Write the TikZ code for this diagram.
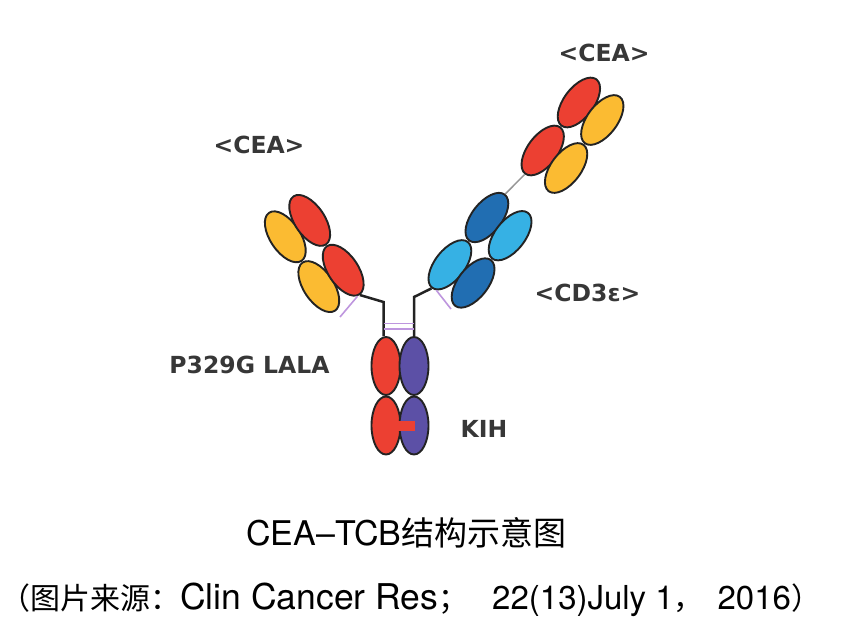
\documentclass[tikz,border=0pt]{standalone}
\usepackage{fontspec}
\setmainfont{TeX Gyre Heros}
\newfontfamily\cjk{Noto Sans CJK SC}
\newfontfamily\labfont{DejaVu Sans}
\usepackage{tikz}
\usetikzlibrary{shapes.geometric,calc}

\definecolor{cred}{RGB}{236,64,50}
\definecolor{cyel}{RGB}{251,187,50}
\definecolor{cdblue}{RGB}{33,110,178}
\definecolor{clblue}{RGB}{54,177,228}
\definecolor{cpurp}{RGB}{92,80,166}
\definecolor{cbond}{RGB}{190,150,222}
\definecolor{clink}{RGB}{150,150,150}
\definecolor{cline}{RGB}{35,35,35}
\definecolor{ctext}{RGB}{55,55,55}

\tikzset{
    dom/.style={ellipse, draw=cline, line width=1.9pt, minimum width=58pt, minimum height=30pt, inner sep=0pt},
    fcdom/.style={dom, minimum width=29pt, minimum height=58pt},
    lab/.style={font=\labfont\bfseries\fontsize{23.5}{26}\selectfont, text=ctext, anchor=base},
    chain/.style={draw=cline, line width=2.5pt},
    ssbond/.style={draw=cbond, line width=1.6pt},
    link/.style={draw=clink, line width=1.5pt}
}

\begin{document}
\begin{tikzpicture}[x=1pt,y=-1pt]
    \useasboundingbox (0,0) rectangle (852,643);
    \node[dom,fill=cyel,rotate=-56] (lvl) at (285.3,236.8) {};
    \node[dom,fill=cred,rotate=-56] (lvh) at (309.7,220.4) {};
    \node[dom,fill=cyel,rotate=-56] (lcl) at (318.8,286.6) {};
    \node[dom,fill=cred,rotate=-56] (lch) at (343.2,270.2) {};
    \node[dom,fill=clblue,rotate=52] (rh1) at (449.9,264.8) {};
    \node[dom,fill=cdblue,rotate=52] (rl1) at (473.1,283) {};
    \node[dom,fill=cdblue,rotate=52] (rh2) at (486.9,217.5) {};
    \node[dom,fill=clblue,rotate=52] (rl2) at (510.1,235.7) {};
    \node[dom,fill=cred,rotate=53] (tch) at (542.7,150.5) {};
    \node[dom,fill=cyel,rotate=53] (tcl) at (566.1,168) {};
    \node[dom,fill=cred,rotate=53] (tvh) at (578.9,102.5) {};
    \node[dom,fill=cyel,rotate=53] (tvl) at (602.3,120) {};
    \node[fcdom,fill=cred] (fca) at (386,366) {};
    \node[fcdom,fill=cpurp] (fcb) at (414,366) {};
    \node[fcdom,fill=cred] (fcc) at (386,425.5) {};
    \node[fcdom,fill=cpurp] (fcd) at (414,425.5) {};
    \fill[cred] ($(fcc.east)+(-5,-5)$) rectangle ($(fcc.east)+(14,5)$);
    \coordinate (lbend) at (383.5,302);
    \coordinate (rbend) at (414,297);
    \coordinate (lss) at (340,317);
    \coordinate (rss) at (451,309);
    \draw[chain] (lch.east) -- (lbend) -- (lbend |- fca.north);
    \draw[chain] (rh1.west) -- (rbend) -- (rbend |- fcb.north);
    \draw[ssbond] (lbend |- 0,323.5) -- (rbend |- 0,323.5);
    \draw[ssbond] (lbend |- 0,329) -- (rbend |- 0,329);
    \draw[ssbond] (lss) -- (lch.-5);
    \draw[ssbond] (rh1.190) -- (rss);
    \draw[link] (rh2.east) -- (tch.west);
    \node[lab] (cea1) at (604,61) {<CEA>};
    \node[lab] (cea2) at (259,153) {<CEA>};
    \node[lab] (cd3) at (587.5,301) {<CD3ε>};
    \node[lab] (lala) at (249.5,373) {P329G LALA};
    \node[lab] (kih) at (484,437) {KIH};
    \node[anchor=base west, inner sep=0pt] (title) at (246,545) {\fontsize{34}{40}\selectfont CEA–TCB{\cjk\fontsize{33}{40}\selectfont 结构示意图}};
    \node[anchor=base west, inner sep=0pt] (source) at (0,609) {{\cjk\fontsize{30}{36}\selectfont （图片来源：}{\fontsize{35.5}{40}\selectfont Clin Cancer Res}{\cjk\fontsize{30}{36}\selectfont ；}\hspace{24pt}{\fontsize{33}{36}\selectfont 22(13)July 1}{\cjk\fontsize{30}{36}\selectfont ，}\hspace{14pt}{\fontsize{33}{36}\selectfont 2016}{\cjk\fontsize{30}{36}\selectfont ）}};
\end{tikzpicture}
\end{document}
